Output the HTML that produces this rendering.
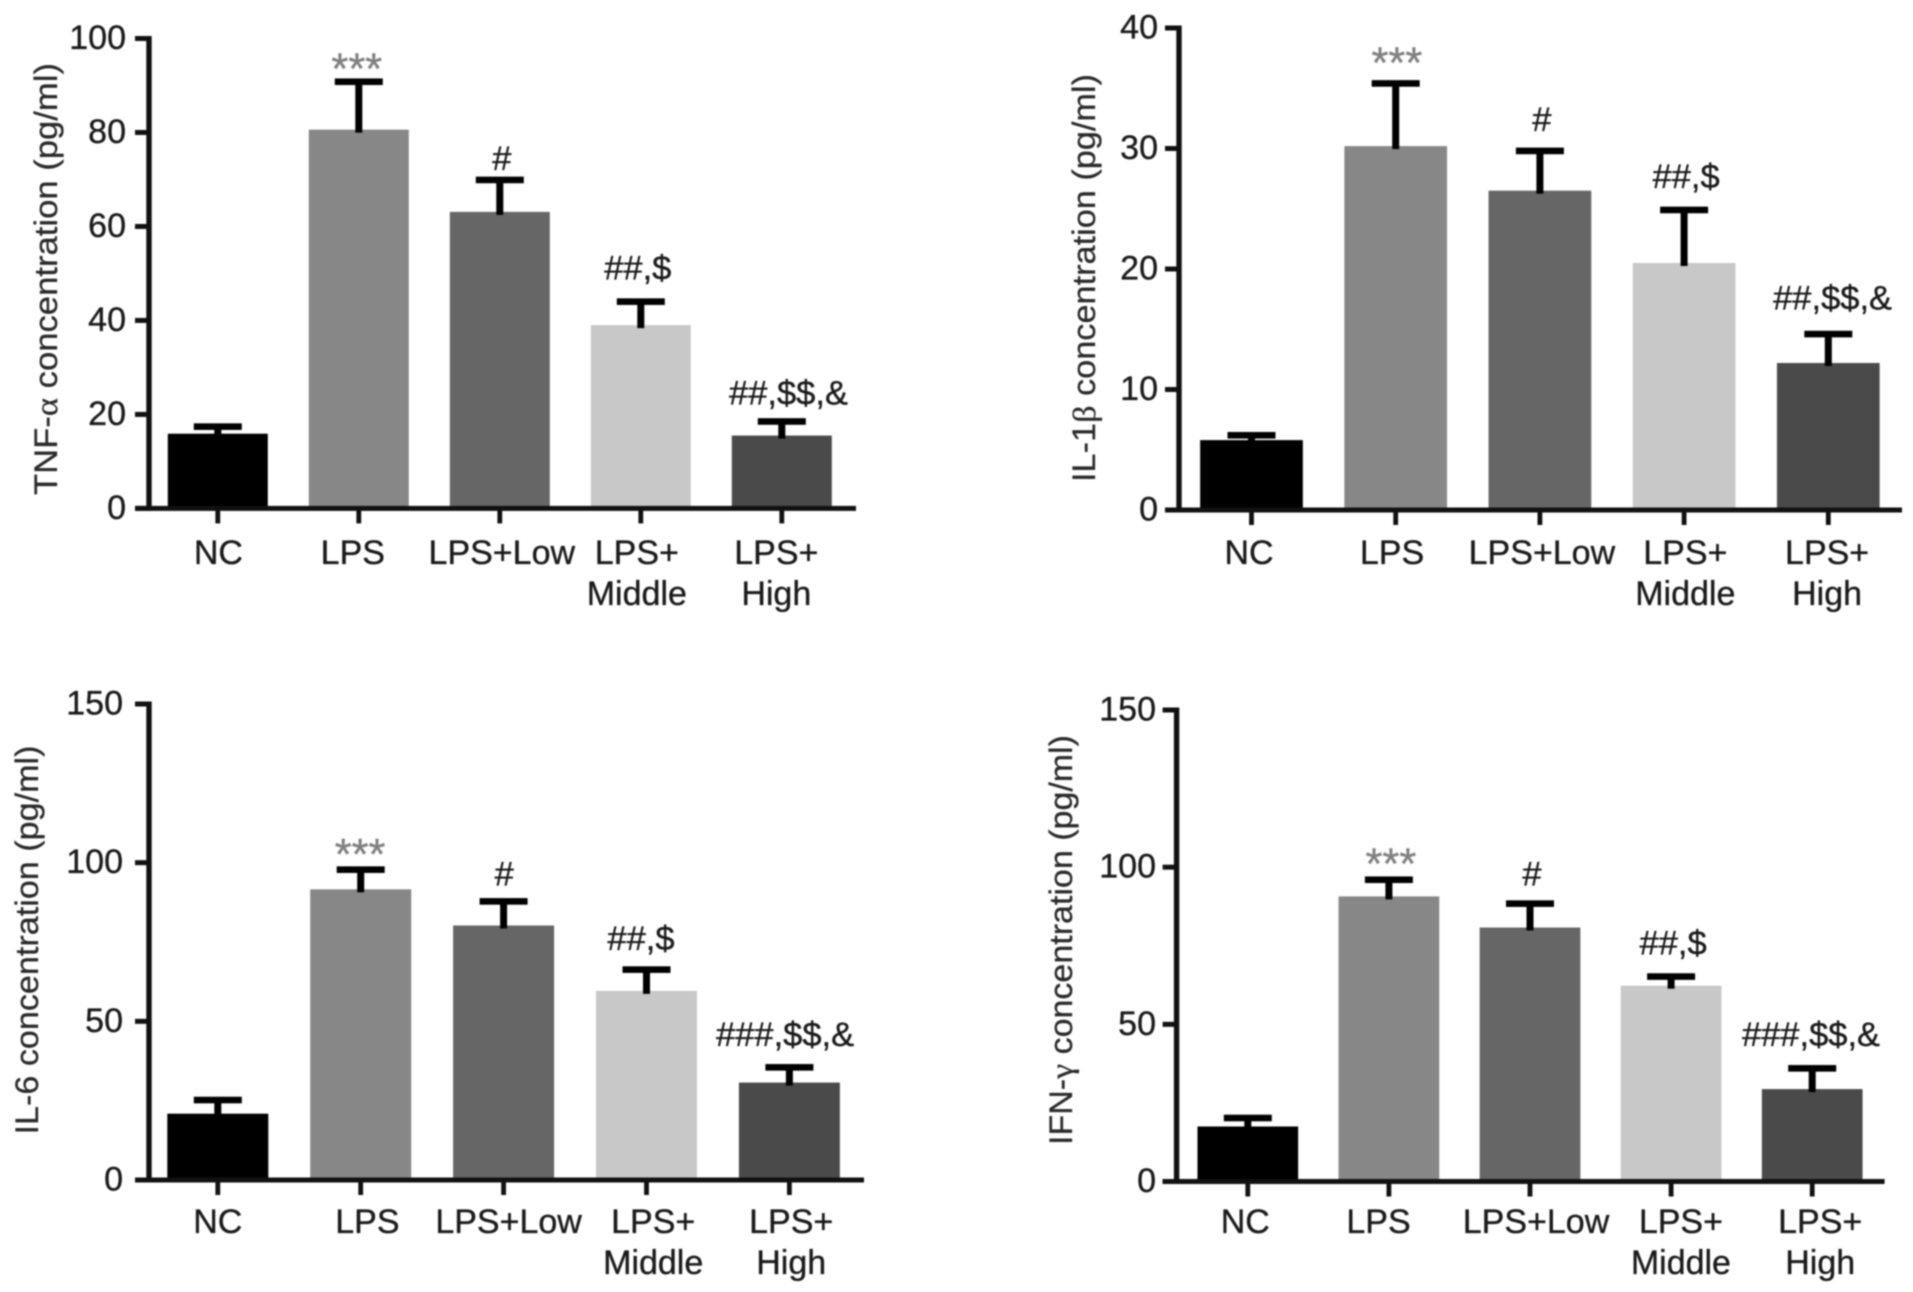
<!DOCTYPE html>
<html lang="en">
<head>
<meta charset="utf-8">
<title>Cytokine concentrations by treatment group</title>
<style>
html,body{margin:0;padding:0;background:#fff;width:1913px;height:1292px;overflow:hidden}
#chart{display:block;filter:blur(.9px)}
.axis-title{font:32px "Liberation Sans",sans-serif;fill:#2a2a2a;stroke:#2a2a2a;stroke-width:.25px}
.greek{font-family:"Liberation Serif",serif}
.tick-label,.cat-label{font:34px "Liberation Sans",sans-serif;fill:#1a1a1a;stroke:#1a1a1a;stroke-width:.35px}
.sig{font:34.5px "Liberation Sans",sans-serif;fill:#1a1a1a;stroke:#1a1a1a;stroke-width:.35px}
.sig-star{font:43.5px "Liberation Sans",sans-serif;fill:#808080;stroke:#808080;stroke-width:.4px}
</style>
</head>
<body>
<svg id="chart" xmlns="http://www.w3.org/2000/svg" width="1913" height="1292" viewBox="0 0 1913 1292">
  <rect x="0" y="0" width="1913" height="1292" fill="#fff"/>
  <text class="axis-title" transform="translate(57,279) rotate(-90)" text-anchor="middle" textLength="432" lengthAdjust="spacingAndGlyphs">TNF-<tspan class="greek">α</tspan> concentration (pg/ml)</text>
  <text class="axis-title" transform="translate(1095,278) rotate(-90)" text-anchor="middle" textLength="408" lengthAdjust="spacingAndGlyphs">IL-1<tspan class="greek">β</tspan> concentration (pg/ml)</text>
  <text class="axis-title" transform="translate(38,940) rotate(-90)" text-anchor="middle" textLength="389" lengthAdjust="spacingAndGlyphs">IL-6 concentration (pg/ml)</text>
  <text class="axis-title" transform="translate(1072,940) rotate(-90)" text-anchor="middle" textLength="410" lengthAdjust="spacingAndGlyphs">IFN-<tspan class="greek">γ</tspan> concentration (pg/ml)</text>
</svg>
<script>
// ---- data ----
const categories = ["NC", "LPS", "LPS+Low", "LPS+\nMiddle", "LPS+\nHigh"];
const barColors = ["#000000", "#878787", "#666666", "#c8c8c8", "#4a4a4a"];

const tnfMeans = [15.9, 80.6, 63.1, 39.0, 15.5];
const tnfErrors = [1.5, 10.2, 6.8, 5.0, 3.0];
const tnfTicks = [0, 20, 40, 60, 80, 100];
const tnfMarks = ["", "***", "#", "##,$", "##,$$,&"];

const il1bMeans = [5.8, 30.2, 26.5, 20.5, 12.2];
const il1bErrors = [0.4, 5.2, 3.3, 4.4, 2.4];
const il1bTicks = [0, 10, 20, 30, 40];
const il1bMarks = ["", "***", "#", "##,$", "##,$$,&"];

const il6Means = [20.9, 91.6, 80.2, 59.6, 30.7];
const il6Errors = [4.3, 6.2, 7.6, 6.7, 4.8];
const il6Ticks = [0, 50, 100, 150];
const il6Marks = ["", "***", "#", "##,$", "###,$$,&"];

const ifnMeans = [17.5, 90.7, 80.8, 62.3, 29.4];
const ifnErrors = [2.7, 5.3, 7.6, 2.9, 6.6];
const ifnTicks = [0, 50, 100, 150];
const ifnMarks = ["", "***", "#", "##,$", "###,$$,&"];

// ---- drawing ----
const svg = document.getElementById('chart');
const NS = 'http://www.w3.org/2000/svg';

function rect(parent, x, y, w, h, fill) {
  const r = document.createElementNS(NS, 'rect');
  r.setAttribute('x', x);
  r.setAttribute('y', y);
  r.setAttribute('width', w);
  r.setAttribute('height', h);
  r.setAttribute('fill', fill);
  parent.appendChild(r);
  return r;
}
function label(parent, x, y, str, cls, anchor) {
  const t = document.createElementNS(NS, 'text');
  t.setAttribute('x', x);
  t.setAttribute('y', y);
  t.setAttribute('class', cls);
  t.setAttribute('text-anchor', anchor);
  t.textContent = str;
  parent.appendChild(t);
  return t;
}

function drawPanel(p, means, errors, ticks, marks) {
  const g = document.createElementNS(NS, 'g');
  
  
  svg.appendChild(g);

  const maxV = ticks[ticks.length - 1];
  const yScale = v => p.base - (v / maxV) * (p.base - p.top);
  const xScale = i => p.x0 + i * p.step;

  categories.forEach((cat, i) => {
    const cx = xScale(i);
    const yTop = yScale(means[i]);
    const yCap = yScale(means[i] + errors[i]);

    const bar = rect(g, cx - p.barW / 2, yTop, p.barW, p.base - yTop, barColors[i]);
    
    

    const stem = rect(g, cx - 3.5, yCap, 7, yTop - yCap + 3, '#000');
    
    

    const cap = rect(g, cx - 24, yCap - 3.3, 48, 6.6, '#000');
    
    

    const tick = rect(g, cx - 2.4, p.base, 4.8, 15, '#111');
    
    

    cat.split('\n').forEach((line, k) => {
      const t = label(g, cx + p.catShift[i], p.catY + k * 41, line, 'cat-label', 'middle');
      
      
    });

    if (marks[i]) {
      const isStar = marks[i] === '***';
      const cls = isStar ? 'sig-star' : 'sig';
      const s = label(g, cx + p.markShift[i], yCap - p.markGap[i] - (isStar ? p.starLift : 1.5), marks[i], cls, 'middle');
      
      
    }
  });

  const yAxis = rect(g, p.axisX - 2.7, p.top - 2.5, 5.4, p.base - p.top + 5, '#111');
  
  

  const xAxis = rect(g, p.axisX - 14, p.base - 2.5, p.right - p.axisX + 14, 5, '#111');
  
  

  ticks.forEach(v => {
    const y = yScale(v);
    const tk = rect(g, p.axisX - 14, y - 2.5, 14, 5, '#111');
    
    
    const tl = label(g, p.labelRight, y + 10.5, String(v), 'tick-label', 'end');
    
    
  });
}

drawPanel({name:'tnf', axisX:149, top:38.5, base:508.4, right:856, x0:217.8, step:141, barW:100, labelRight:126, catY:564, starLift:2,
  catShift:[0.6,-6,2,-4,-5.5], markShift:[0,-2,2,-3,6.7], markGap:[0,-4,8.3,20.7,15.7]},
  tnfMeans, tnfErrors, tnfTicks, tnfMarks);

drawPanel({name:'il1b', axisX:1179, top:28, base:510, right:1902, x0:1251.5, step:144.2, barW:102.7, labelRight:1158, catY:564, starLift:3.4,
  catShift:[-2.5,-3.7,2,1.2,-1.2], markShift:[0,1.2,2,2,4.3], markGap:[0,2.5,18.6,20.7,23]},
  il1bMeans, il1bErrors, il1bTicks, il1bMarks);

drawPanel({name:'il6', axisX:149, top:704, base:1180, right:864, x0:217.8, step:142.9, barW:101, labelRight:123, catY:1233, starLift:1,
  catShift:[0,6.7,5,6.7,1.8], markShift:[0,-0.6,0.6,-5.5,-4.3], markGap:[0,-0.4,14.5,18,20]},
  il6Means, il6Errors, il6Ticks, il6Marks);

drawPanel({name:'ifn', axisX:1176.6, top:710, base:1181.5, right:1884.6, x0:1247.8, step:141.1, barW:100.7, labelRight:1156, catY:1233, starLift:1,
  catShift:[-2.5,-10.4,6,9.8,8], markShift:[0,2,2,2,-1.2], markGap:[0,0,16.5,20.7,20.7]},
  ifnMeans, ifnErrors, ifnTicks, ifnMarks);
</script>
</body>
</html>
